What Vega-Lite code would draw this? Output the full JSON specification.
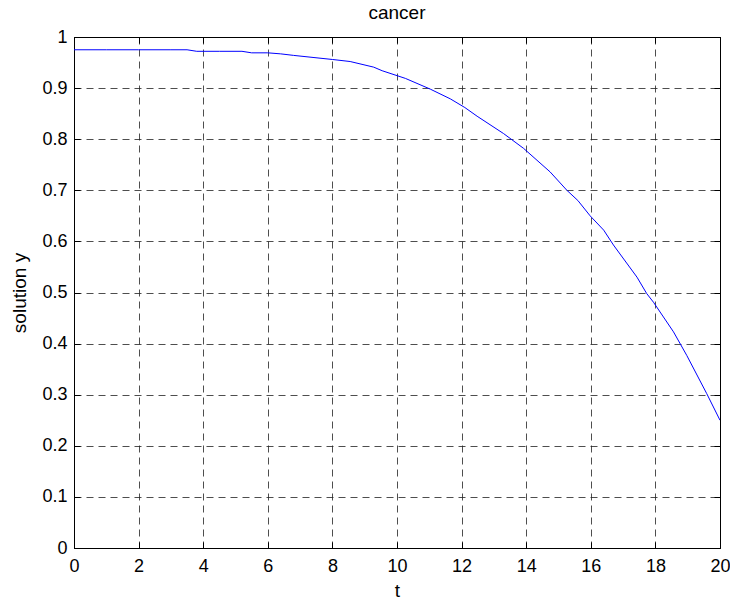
{
  "$schema": "https://vega.github.io/schema/vega-lite/v6.json",
  "autosize": {"type": "none"},
  "width": 646,
  "height": 511,
  "padding": {"left": 74, "top": 37, "right": 10, "bottom": 51},
  "background": "white",
  "config": {
    "font": "Liberation Sans",
    "view": {"stroke": "black", "strokeWidth": 1},
    "axis": {
      "labelFont": "Liberation Sans",
      "labelFontSize": 18,
      "labelColor": "black",
      "labelFlush": false,
      "labelOverlap": false,
      "titleFont": "Liberation Sans",
      "titleFontSize": 19,
      "titleFontWeight": "normal",
      "titleColor": "black",
      "domainColor": "black",
      "tickColor": "black",
      "tickSize": -6,
      "gridColor": "#222",
      "gridDash": [7, 5],
      "gridWidth": 1,
      "gridOpacity": 0.8
    },
    "title": {"font": "Liberation Sans", "fontSize": 19, "fontWeight": "normal", "color": "black", "offset": 5}
  },
  "title": "cancer",
  "data": {
    "values": [
      {"t": 0, "y": 0.975},
      {"t": 1, "y": 0.975},
      {"t": 2, "y": 0.975},
      {"t": 3, "y": 0.975},
      {"t": 3.5, "y": 0.975},
      {"t": 3.8, "y": 0.972},
      {"t": 4.5, "y": 0.972},
      {"t": 5.2, "y": 0.972},
      {"t": 5.5, "y": 0.969},
      {"t": 6.0, "y": 0.969},
      {"t": 6.4, "y": 0.967},
      {"t": 6.8, "y": 0.964},
      {"t": 7.4, "y": 0.960},
      {"t": 8.0, "y": 0.956},
      {"t": 8.55, "y": 0.952},
      {"t": 9.28, "y": 0.941},
      {"t": 9.54, "y": 0.934},
      {"t": 10.26, "y": 0.919},
      {"t": 11.03, "y": 0.898},
      {"t": 11.65, "y": 0.879},
      {"t": 12.1, "y": 0.862},
      {"t": 12.48, "y": 0.845},
      {"t": 13.3, "y": 0.811},
      {"t": 13.92, "y": 0.782},
      {"t": 14.74, "y": 0.736},
      {"t": 15.26, "y": 0.700},
      {"t": 15.6, "y": 0.680},
      {"t": 15.98, "y": 0.650},
      {"t": 16.4, "y": 0.622},
      {"t": 16.7, "y": 0.593},
      {"t": 17.43, "y": 0.530},
      {"t": 17.73, "y": 0.498},
      {"t": 17.94, "y": 0.481},
      {"t": 18.56, "y": 0.423},
      {"t": 18.97, "y": 0.377},
      {"t": 19.59, "y": 0.302},
      {"t": 20, "y": 0.250}
    ]
  },
  "layer": [
    {
      "mark": {"type": "line", "color": "#0000ff", "strokeWidth": 1, "clip": true},
      "encoding": {
        "x": {
          "field": "t", "type": "quantitative",
          "scale": {"domain": [0, 20], "nice": false, "zero": false},
          "axis": {"values": [0, 2, 4, 6, 8, 10, 12, 14, 16, 18, 20], "format": "~g", "title": "t", "grid": true, "labelPadding": 15, "titleY": 48, "titleBaseline": "alphabetic"}
        },
        "y": {
          "field": "y", "type": "quantitative",
          "scale": {"domain": [0, 1], "nice": false},
          "axis": {"values": [0, 0.1, 0.2, 0.3, 0.4, 0.5, 0.6, 0.7, 0.8, 0.9, 1], "format": "~g", "title": "solution y", "grid": true, "labelPadding": 13, "titleX": -49, "titleBaseline": "alphabetic"}
        }
      }
    },
    {
      "mark": {"type": "line", "opacity": 0, "clip": true},
      "encoding": {
        "x": {"field": "t", "type": "quantitative", "scale": {"domain": [0, 20], "nice": false, "zero": false},
          "axis": {"orient": "top", "values": [0, 2, 4, 6, 8, 10, 12, 14, 16, 18, 20], "labels": false, "title": null, "grid": false}},
        "y": {"field": "y", "type": "quantitative", "scale": {"domain": [0, 1], "nice": false},
          "axis": {"orient": "right", "values": [0, 0.1, 0.2, 0.3, 0.4, 0.5, 0.6, 0.7, 0.8, 0.9, 1], "labels": false, "title": null, "grid": false}}
      }
    }
  ],
  "resolve": {"axis": {"x": "independent", "y": "independent"}}
}
